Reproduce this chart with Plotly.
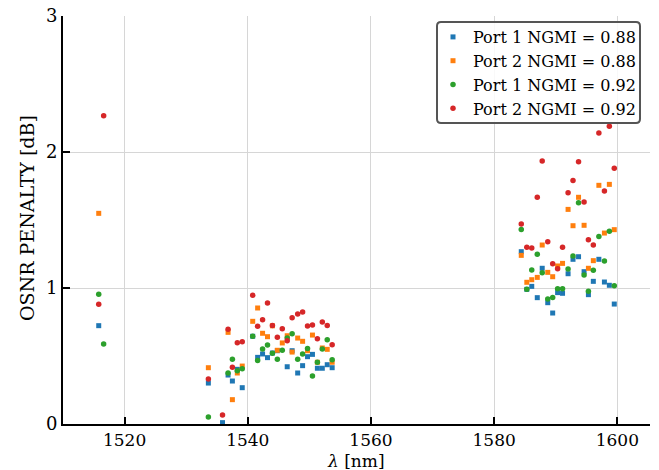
import plotly.graph_objects as go

# Channel wavelengths [nm]
wavelength = [
    1515.8, 1516.6, 1533.6, 1535.9, 1536.8, 1537.5, 1538.3, 1539.1,
    1540.8, 1541.6, 1542.4, 1543.2, 1544.0, 1544.8, 1545.6, 1546.4,
    1547.2, 1548.1, 1548.9, 1549.7, 1550.5, 1551.3, 1552.1, 1552.9, 1553.7,
    1584.4, 1585.3, 1586.1, 1587.0, 1587.8, 1588.7, 1589.5, 1590.3,
    1591.1, 1592.0, 1592.8, 1593.7, 1594.6, 1595.3, 1596.1, 1597.0,
    1597.9, 1598.7, 1599.5,
]

# OSNR penalty [dB] per port / NGMI threshold (None = channel not measured)
port1_088 = [
    0.723, None, 0.301, 0.010, 0.360, 0.316, 0.402, 0.267,
    0.645, 0.490, 0.515, 0.488, 0.522, 0.539, None, 0.421,
    0.539, 0.375, 0.429, 0.495, 0.512, 0.410, 0.410, 0.436, 0.414,
    1.267, 0.990, 1.012, 0.929, 1.145, 0.892, 0.816, 0.966,
    0.961, 1.105, 1.211, 1.230, 1.120, 0.951, 1.049, 1.211,
    1.044, 1.020, 0.882,
]
port2_088 = [
    1.549, None, 0.414, None, 0.674, 0.179, 0.375, 0.426,
    0.755, 0.853, 0.667, 0.642, 0.722, 0.542, 0.596, 0.649,
    0.529, 0.632, 0.608, 0.539, 0.654, 0.454, 0.559, 0.549, 0.454,
    1.240, 1.042, 1.061, 1.078, 1.316, 1.115, 1.083, 1.162,
    1.181, 1.578, 1.458, 1.667, 1.461, 1.145, 1.201, 1.755,
    1.404, 1.762, 1.429,
]
port1_092 = [
    0.954, 0.588, 0.051, None, 0.375, 0.476, 0.392, 0.407,
    0.645, 0.466, 0.551, 0.581, 0.520, 0.476, 0.542, 0.632,
    0.664, 0.476, 0.515, 0.556, 0.353, 0.454, 0.551, 0.620, 0.473,
    1.431, 0.990, 1.132, 1.248, 1.113, 0.919, 0.931, 0.995,
    0.995, 1.140, 1.235, 1.627, 1.096, 0.976, 1.130, 1.378,
    1.199, 1.417, 1.017,
]
port2_092 = [
    0.880, 2.267, 0.331, 0.066, 0.696, 0.417, 0.598, 0.605,
    0.946, 0.718, 0.767, 0.890, 0.725, 0.637, 0.701, 0.613,
    0.782, 0.809, 0.824, 0.721, 0.728, 0.627, 0.750, 0.725, 0.583,
    1.470, 1.300, 1.294, 1.667, 1.934, 1.340, 1.179, 1.142,
    1.300, 1.700, 1.790, 1.929, 1.632, 1.355, 1.316, 2.140,
    1.713, 2.190, 1.880,
]

x_ticks = [1520, 1540, 1560, 1580, 1600]
y_ticks = [0, 1, 2, 3]

series = [
    ("Port 1 NGMI = 0.88", port1_088, "#1f77b4", "square", 5),
    ("Port 2 NGMI = 0.88", port2_088, "#ff7f0e", "square", 5),
    ("Port 1 NGMI = 0.92", port1_092, "#2ca02c", "circle", 5.5),
    ("Port 2 NGMI = 0.92", port2_092, "#d62728", "circle", 5.5),
]

FONT = "DejaVu Serif"

W, H = 659, 470
L, R, T, B = 63, 9, 16, 46
pw, ph = W - L - R, H - T - B


def px_to_dom(px, py):
    """Pixel position in the figure -> fraction of the plotting area."""
    return (px - L) / pw, 1 - (py - T) / ph


fig = go.Figure()
for name, vals, color, symbol, size in series:
    fig.add_trace(go.Scatter(
        x=wavelength, y=vals, mode="markers", name=name,
        marker=dict(color=color, symbol=symbol, size=size,
                    line=dict(width=0)),
    ))

# Rounded legend frame
x0, x1, y0, y1, r = 437, 640, 22, 123, 4
corners = [
    ("M", [(x0 + r, y0)]), ("L", [(x1 - r, y0)]), ("Q", [(x1, y0), (x1, y0 + r)]),
    ("L", [(x1, y1 - r)]), ("Q", [(x1, y1), (x1 - r, y1)]), ("L", [(x0 + r, y1)]),
    ("Q", [(x0, y1), (x0, y1 - r)]), ("L", [(x0, y0 + r)]), ("Q", [(x0, y0), (x0 + r, y0)]),
]
parts = []
for cmd, pts in corners:
    coords = " ".join("{:.5f},{:.5f}".format(*px_to_dom(a, b)) for a, b in pts)
    parts.append(f"{cmd} {coords}")
frame = " ".join(parts) + " Z"
fig.add_shape(type="path", path=frame, xref="x domain", yref="y domain",
              line=dict(color="#555555", width=2),
              fillcolor="rgba(255,255,255,0.85)", layer="above")

lx, ly = px_to_dom(x0 - 4, y0 - 2)

# Axis titles
tx, ty = px_to_dom(356, 461)
fig.add_annotation(text="<i>λ</i> [nm]", x=tx, y=ty, xref="paper", yref="paper",
                   xanchor="center", yanchor="middle", showarrow=False,
                   font=dict(family=FONT, size=17, color="black"))
tx, ty = px_to_dom(27, 218)
fig.add_annotation(text="OSNR PENALTY [dB]", x=tx, y=ty, xref="paper", yref="paper",
                   xanchor="center", yanchor="middle", showarrow=False, textangle=-90,
                   font=dict(family=FONT, size=19, color="black"))

fig.update_layout(
    width=W, height=H,
    margin=dict(l=L, r=R, t=T, b=B),
    paper_bgcolor="white", plot_bgcolor="white",
    font=dict(family=FONT, size=18, color="black"),
    showlegend=True,
    legend=dict(
        x=lx, y=ly, xanchor="left", yanchor="top",
        bgcolor="rgba(0,0,0,0)", borderwidth=0,
        font=dict(family=FONT, size=16, color="black"),
        tracegroupgap=0, itemwidth=30,
    ),
    xaxis=dict(
        range=[1510, 1605.3], tickvals=x_ticks,
        ticks="inside", ticklen=7, tickwidth=2, tickcolor="black",
        showline=True, linewidth=2, linecolor="black",
        showgrid=True, gridcolor="#d6d6d6", gridwidth=1,
        zeroline=False, automargin=False,
        tickfont=dict(family=FONT, size=17),
    ),
    yaxis=dict(
        range=[0, 3], tickvals=y_ticks,
        ticks="inside", ticklen=7, tickwidth=2, tickcolor="black",
        showline=True, linewidth=2, linecolor="black",
        showgrid=True, gridcolor="#d6d6d6", gridwidth=1,
        zeroline=False, automargin=False,
        tickfont=dict(family=FONT, size=18),
    ),
)

fig.write_html("out.html")
